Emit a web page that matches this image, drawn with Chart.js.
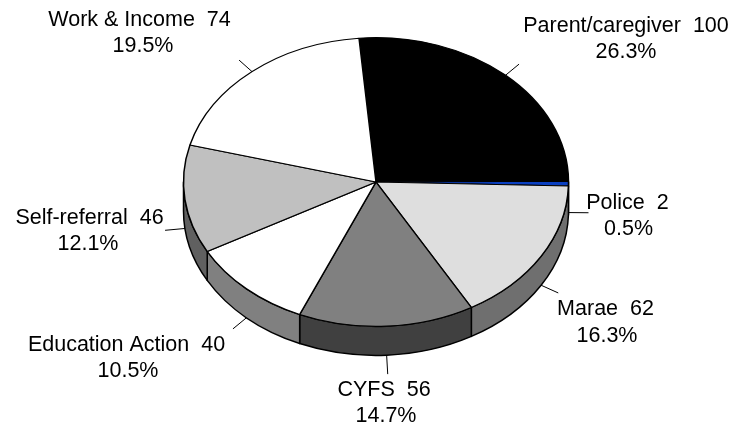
<!DOCTYPE html>
<html><head><meta charset="utf-8">
<style>html,body{margin:0;padding:0;background:#fff}#w{width:730px;height:425px;position:relative}</style>
<script src="https://cdn.jsdelivr.net/npm/chart.js@4"></script></head>
<body><div id="w"><canvas id="c" width="730" height="425"></canvas></div>
<script>
const categories = ['Parent/caregiver','Police','Marae','CYFS','Education Action','Self-referral','Work & Income'];
const counts = [100,2,62,56,40,46,74];
const percents = ['26.3%','0.5%','16.3%','14.7%','10.5%','12.1%','19.5%'];
const topColors = ['#000000','#0a3fc0','#dedede','#808080','#ffffff','#c0c0c0','#ffffff'];
const sideColors = ['#000000','#052060','#6f6f6f','#404040','#808080','#606060','#808080'];
// text placement: centre x and baseline y of each label line
const nameX = [626,627.5,605.5,384,126.5,89.5,139.5];
const nameY = [32,209,315,396,351,224,26];
const pctX  = [626,628.5,607,386,128,88,143];
const pctY  = [58,235,342,422,377,250,52];
const leadY = [.75,.75,.75,.95,.75,.75,.75];

const RX=192.5, SQ=0.75, DEPTH=29, CY=182, LEAD=20;
const FONT='21.5px "Liberation Sans", Arial, sans-serif';

const pie3d={id:'pie3d',
 beforeDatasetsDraw(chart){
  const ctx=chart.ctx, arcs=chart.getDatasetMeta(0).data;
  ctx.save();
  ctx.lineWidth=1.5; ctx.strokeStyle='#000'; ctx.lineJoin='round';
  arcs.forEach((a,i)=>{
    const p=a.getProps(['x','y','startAngle','endAngle','outerRadius'],true);
    const s=Math.max(p.startAngle,0), e=Math.min(p.endAngle,Math.PI);
    if(e<=s) return;
    const ry=p.outerRadius*SQ;
    ctx.beginPath();
    ctx.ellipse(p.x,CY,p.outerRadius,ry,0,s,e,false);
    ctx.ellipse(p.x,CY+DEPTH,p.outerRadius,ry,0,e,s,true);
    ctx.closePath();
    ctx.fillStyle=sideColors[i]; ctx.fill(); ctx.stroke();
  });
  ctx.restore();
  ctx.save();
  const a0=arcs[0];
  ctx.translate(0,CY); ctx.scale(1,SQ); ctx.translate(0,-a0.y);
 },
 afterDatasetsDraw(chart){
  const ctx=chart.ctx, arcs=chart.getDatasetMeta(0).data;
  ctx.restore();
  ctx.save();
  ctx.font=FONT; ctx.fillStyle='#000'; ctx.textAlign='center'; ctx.textBaseline='alphabetic';
  ctx.strokeStyle='#000'; ctx.lineWidth=1;
  arcs.forEach((a,i)=>{
    const m=(a.startAngle+a.endAngle)/2, c=Math.cos(m), s=Math.sin(m);
    const x0=a.x+a.outerRadius*c, y0=CY+a.outerRadius*SQ*s+(s>0?DEPTH:0);
    const x1=x0+LEAD*c, y1=y0+LEAD*leadY[i]*s;
    ctx.beginPath(); ctx.moveTo(x0,y0); ctx.lineTo(x1,y1); ctx.stroke();
    ctx.fillText(categories[i]+'  '+counts[i],nameX[i],nameY[i]);
    ctx.fillText(percents[i],pctX[i],pctY[i]);
  });
  ctx.restore();
 }
};

new Chart(document.getElementById('c'),{
 type:'pie',
 data:{labels:categories,datasets:[{data:counts,backgroundColor:topColors,borderColor:'#000',borderWidth:1.5,radius:RX,clip:false}]},
 options:{responsive:false,animation:false,rotation:-5.06,
  layout:{padding:{left:22,right:0,top:0,bottom:0}},
  plugins:{legend:{display:false},tooltip:{enabled:false}}},
 plugins:[pie3d]
});
</script></body></html>
